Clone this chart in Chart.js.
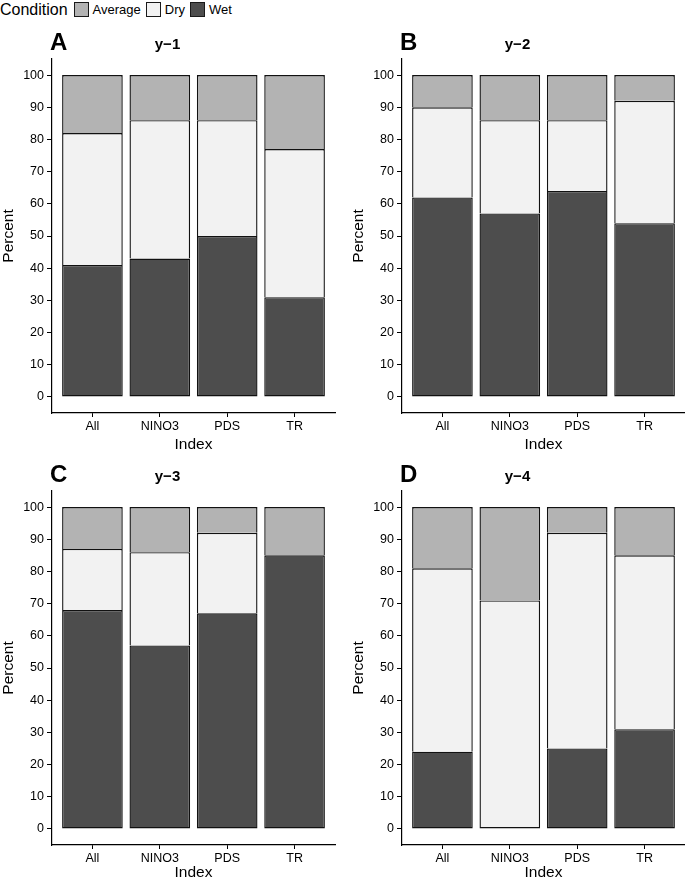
<!DOCTYPE html>
<html>
<head>
<meta charset="utf-8">
<script src="https://cdn.jsdelivr.net/npm/chart.js@4"></script>
<style>
  body { margin: 0; background: #fff; font-family: "Liberation Sans", Arial, sans-serif; }
  #page { position: relative; width: 685px; height: 880px; overflow: hidden; }
  .panel { position: absolute; }
  #legend { position: absolute; left: 0; top: 0; height: 19px; display: flex; align-items: center; color: #000; }
  #legend .title { font-size: 16px; margin-right: 6px; }
  #legend .sw { width: 13px; height: 13px; border: 1px solid #1a1a1a; margin-right: 4px; }
  #legend .lbl { font-size: 13px; margin-right: 5px; }
</style>
</head>
<body>
<div id="page">
  <div id="legend"></div>
  <div class="panel" id="p0"><canvas id="c0"></canvas></div>
  <div class="panel" id="p1"><canvas id="c1"></canvas></div>
  <div class="panel" id="p2"><canvas id="c2"></canvas></div>
  <div class="panel" id="p3"><canvas id="c3"></canvas></div>
</div>
<script>
const categories = ['All', 'NINO3', 'PDS', 'TR'];
const conditions = ['Wet', 'Dry', 'Average'];
const legendOrder = ['Average', 'Dry', 'Wet'];
const panelTitles = ['y\u22121', 'y\u22122', 'y\u22123', 'y\u22124'];
const panelLetters = ['A', 'B', 'C', 'D'];
const yTicks = [0, 10, 20, 30, 40, 50, 60, 70, 80, 90, 100];

// percent per index, one list per condition and lag
const wetY1 = [41, 43, 50, 31];
const dryY1 = [41, 43, 36, 46];
const avgY1 = [18, 14, 14, 23];

const wetY2 = [62, 57, 64, 54];
const dryY2 = [28, 29, 22, 38];
const avgY2 = [10, 14, 14, 8];

const wetY3 = [68, 57, 67, 85];
const dryY3 = [19, 29, 25, 0];
const avgY3 = [13, 14, 8, 15];

const wetY4 = [24, 0, 25, 31];
const dryY4 = [57, 71, 67, 54];
const avgY4 = [19, 29, 8, 15];

const panelData = [
    [wetY1, dryY1, avgY1],
    [wetY2, dryY2, avgY2],
    [wetY3, dryY3, avgY3],
    [wetY4, dryY4, avgY4]
];

const colors = { Wet: '#4d4d4d', Dry: '#f2f2f2', Average: '#b3b3b3' };

// page layout of the four panels
const layout = [
    { left: 0, top: 20, w: 340, h: 432, padRight: 5, xH: 39 },
    { left: 350, top: 20, w: 335, h: 432, padRight: 0, xH: 39 },
    { left: 0, top: 452, w: 340, h: 428, padRight: 5, xH: 35 },
    { left: 350, top: 452, w: 335, h: 428, padRight: 0, xH: 35 }
];

Chart.defaults.font.family = '"Liberation Sans", Arial, sans-serif';
Chart.defaults.color = '#000';

// legend
const legendEl = document.getElementById('legend');
let lhtml = '<span class="title">Condition</span>';
legendOrder.forEach(c => {
    lhtml += `<span class="sw" style="background:${colors[c]}"></span><span class="lbl">${c}</span>`;
});
legendEl.innerHTML = lhtml;

const letterPlugin = {
    id: 'panelLetter',
    afterDraw(chart, args, opts) {
        const ctx = chart.ctx;
        ctx.save();
        ctx.font = 'bold 24px "Liberation Sans", Arial, sans-serif';
        ctx.fillStyle = '#000';
        ctx.textBaseline = 'alphabetic';
        ctx.textAlign = 'left';
        ctx.fillText(opts.letter, chart.chartArea.left - 2, 30);
        ctx.restore();
    }
};

function plotPanel(i) {
    const L = layout[i];
    const wrap = document.getElementById('p' + i);
    wrap.style.left = L.left + 'px';
    wrap.style.top = L.top + 'px';
    wrap.style.width = L.w + 'px';
    wrap.style.height = L.h + 'px';
    const canvas = document.getElementById('c' + i);
    canvas.width = L.w;
    canvas.height = L.h;

    const series = panelData[i];
    const datasets = conditions.map((c, k) => ({
        label: c,
        data: series[k].map((v, j) => ({ x: j + 1, y: v })),
        backgroundColor: colors[c],
        borderColor: '#111',
        borderWidth: 1.4,
        // segments sitting on another one share its top edge
        borderSkipped: ctx => {
            let below = 0;
            for (let m = 0; m < k; m++) below += series[m][ctx.dataIndex];
            return below > 0 ? 'bottom' : false;
        },
        categoryPercentage: 1,
        barPercentage: 0.9
    }));

    new Chart(canvas.getContext('2d'), {
        type: 'bar',
        data: { datasets: datasets },
        plugins: [letterPlugin],
        options: {
            responsive: false,
            animation: false,
            layout: { padding: { top: 0, right: L.padRight, bottom: 0, left: 0 } },
            plugins: {
                legend: { display: false },
                tooltip: { enabled: false },
                panelLetter: { letter: panelLetters[i] },
                title: {
                    display: true,
                    text: panelTitles[i],
                    font: { size: 15, weight: 'bold', lineHeight: 1.2 },
                    color: '#000',
                    padding: { top: 16, bottom: 5 }
                }
            },
            scales: {
                x: {
                    type: 'linear',
                    stacked: true,
                    offset: false,
                    min: 0.4,
                    max: 4.6,
                    afterBuildTicks: scale => { scale.ticks = categories.map((c, j) => ({ value: j + 1 })); },
                    afterFit: scale => { scale.height = L.xH; },
                    ticks: {
                        callback: v => categories[v - 1],
                        font: { size: 12.5 },
                        color: '#000',
                        padding: 2,
                        maxRotation: 0,
                        autoSkip: false
                    },
                    grid: { offset: false, drawOnChartArea: false, drawTicks: true, tickLength: 4, color: '#000', tickWidth: 1 },
                    border: { display: true, color: '#000', width: 1.2 },
                    title: {
                        display: true,
                        text: 'Index',
                        font: { size: 15.5, lineHeight: 1.0 },
                        color: '#000',
                        padding: { top: 0, bottom: 0 }
                    }
                },
                y: {
                    stacked: true,
                    min: -5,
                    max: 105,
                    afterBuildTicks: scale => { scale.ticks = yTicks.map(v => ({ value: v })); },
                    afterFit: scale => { scale.width = 52; },
                    ticks: {
                        font: { size: 12.5 },
                        color: '#000',
                        padding: 3
                    },
                    grid: { drawOnChartArea: false, drawTicks: true, tickLength: 5, color: '#000', tickWidth: 1 },
                    border: { display: true, color: '#000', width: 1.2 },
                    title: {
                        display: true,
                        text: 'Percent',
                        font: { size: 15.5, lineHeight: 1.0 },
                        color: '#000',
                        padding: { top: 1, bottom: 0 }
                    }
                }
            }
        }
    });
}

for (let i = 0; i < 4; i++) plotPanel(i);
</script>
</body>
</html>
